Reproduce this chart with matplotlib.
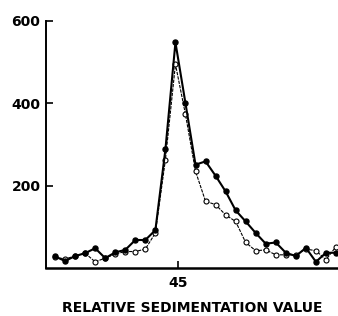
import matplotlib
matplotlib.use("Agg")
import matplotlib.pyplot as plt

fractions = list(range(1, 30))
filled_values = [28, 17, 29, 36, 48, 24, 38, 44, 68, 68, 92, 288, 548, 400, 251,
                 259, 224, 186, 140, 113, 85, 59, 62, 37, 29, 49, 15, 37, 37]
open_values = [26, 22, 29, 36, 15, 24, 34, 40, 40, 46, 85, 263, 495, 373, 235,
               162, 154, 129, 113, 62, 42, 44, 32, 32, 32, 46, 42, 20, 52]
y_ticks = [200, 400, 600]
x_tick_pos = [13.25]
x_tick_labels = ["45"]
x_label = "RELATIVE SEDIMENTATION VALUE"

fig = plt.figure(figsize=(3.38, 3.16), dpi=100)
ax = fig.add_axes([46/338, 1-268/316, 1-46/338, (268-21)/316])

ax.plot(fractions, open_values, color="black", lw=0.8, ls=(0, (3, 1)),
        marker="o", ms=3.6, mfc="white", mec="black", mew=0.8, zorder=2)
ax.plot(fractions, filled_values, color="black", lw=1.5,
        marker="o", ms=3.6, mfc="black", mec="black", zorder=3)

ax.set_xlim(0.1, 29.2)
ax.set_ylim(0, 600)
ax.set_yticks(y_ticks)
ax.set_yticklabels([str(v) for v in y_ticks], fontsize=10, fontweight="bold")
ax.set_xticks(x_tick_pos)
ax.set_xticklabels(x_tick_labels, fontsize=10, fontweight="bold")
ax.tick_params(axis="both", direction="in", length=5, width=1.2, pad=4)
ax.tick_params(axis="x", pad=6)
ax.spines["top"].set_visible(False)
ax.spines["right"].set_visible(False)
ax.spines["left"].set_linewidth(1.4)
ax.spines["bottom"].set_linewidth(1.8)
ax.set_xlabel(x_label, fontsize=10, fontweight="bold", labelpad=8)

fig.savefig("out.png", dpi=100)
